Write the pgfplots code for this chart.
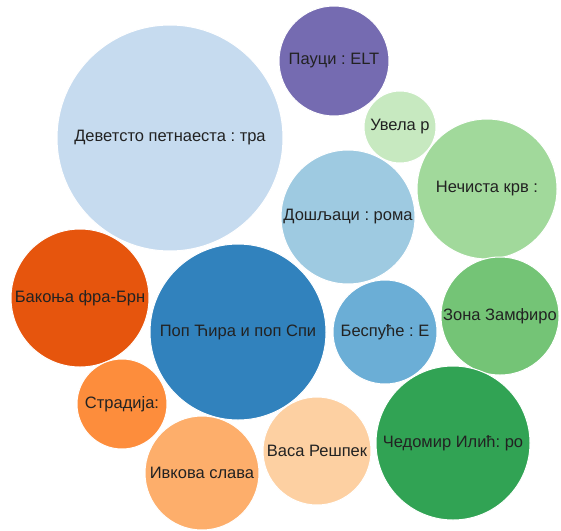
\documentclass[border=0pt]{standalone}
\usepackage{fontspec}
\setmainfont{Liberation Sans}
\usepackage{pgfplots}
\pgfplotsset{compat=1.18}
\frenchspacing
\definecolor{c1}{HTML}{C6DBEF}
\definecolor{c2}{HTML}{756BB1}
\definecolor{c3}{HTML}{C7E9C0}
\definecolor{c4}{HTML}{A1D99B}
\definecolor{c5}{HTML}{9ECAE1}
\definecolor{c6}{HTML}{E6550D}
\definecolor{c7}{HTML}{3182BD}
\definecolor{c8}{HTML}{6BAED6}
\definecolor{c9}{HTML}{74C476}
\definecolor{c10}{HTML}{FD8D3C}
\definecolor{c11}{HTML}{FDAE6B}
\definecolor{c12}{HTML}{FDD0A2}
\definecolor{c13}{HTML}{31A354}
\definecolor{txt}{HTML}{222222}
\pgfplotsset{bub/.style={only marks, mark=*, mark options={fill=#1, draw=white, line width=1pt},
  every node near coord/.style={anchor=center, inner sep=0pt, text=txt, font=\fontsize{16.5}{18}\selectfont}}}
\begin{document}
\begin{tikzpicture}
\begin{axis}[width=561pt,height=530pt,scale only axis,
  xmin=0,xmax=561,ymin=0,ymax=530,y dir=reverse,hide axis,clip=false]
\addplot[bub=c1, mark size=113, nodes near coords={Деветсто петнаеста : тра}] coordinates {(170,138)};
\addplot[bub=c2, mark size=55, nodes near coords={Пауци : ELT}] coordinates {(334,61)};
\addplot[bub=c3, mark size=36, nodes near coords={Увела р}] coordinates {(400,127)};
\addplot[bub=c4, mark size=70, nodes near coords={Нечиста крв :}] coordinates {(487,189)};
\addplot[bub=c5, mark size=67, nodes near coords={Дошљаци : рома}] coordinates {(348,217)};
\addplot[bub=c6, mark size=69, nodes near coords={Бакоња фра-Брн}] coordinates {(80,298)};
\addplot[bub=c7, mark size=88, nodes near coords={Поп Ћира и поп Спи}] coordinates {(238,332)};
\addplot[bub=c8, mark size=52, nodes near coords={Беспуће : Е}] coordinates {(385,332)};
\addplot[bub=c9, mark size=59, nodes near coords={Зона Замфиро}] coordinates {(500,316)};
\addplot[bub=c10, mark size=45, nodes near coords={Страдија:}] coordinates {(122,404)};
\addplot[bub=c11, mark size=57, nodes near coords={Ивкова слава}] coordinates {(202,473)};
\addplot[bub=c12, mark size=54, nodes near coords={Васа Решпек}] coordinates {(317,451)};
\addplot[bub=c13, mark size=77, nodes near coords={Чедомир Илић: ро}] coordinates {(453,443)};
\end{axis}
\pgfresetboundingbox
\useasboundingbox (0,0) rectangle (561pt,530pt);
\end{tikzpicture}
\end{document}
